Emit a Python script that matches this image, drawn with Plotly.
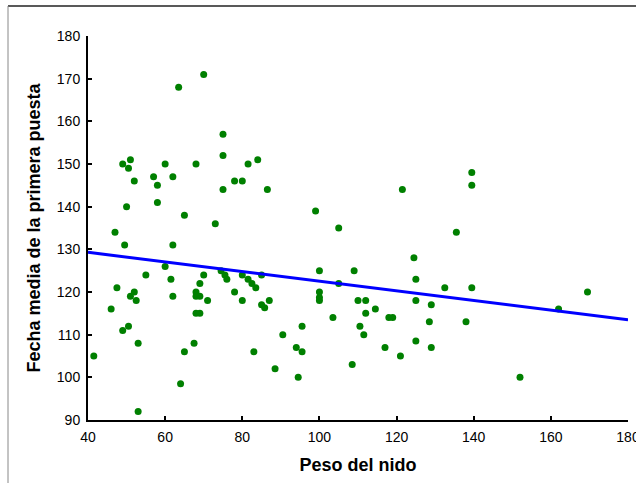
import plotly.graph_objects as go

# Nest weight (g) and mean first-laying date for each nest
peso_nido = [
    70, 63.5, 51, 49, 50.5, 60, 68, 52, 57, 62, 58, 50, 58, 65, 73,
    75, 75, 84, 81.5, 78, 80, 75, 86.5, 99, 47, 49.5, 62, 60, 55, 61.5,
    70, 69, 47.5, 52, 51, 52.5, 62, 68, 68, 69, 71, 46, 68, 69, 49,
    50.5, 53, 67.5, 65, 41.5, 64, 53, 74.5, 75.5, 76, 80, 81.5, 82.5, 83.5, 85,
    78, 80, 87, 85, 85.8, 100, 100, 100, 100, 95.5, 90.5, 94, 95.5, 83, 88.5,
    94.5, 139.5, 139.5, 121.5, 105, 135.5, 124.5, 109, 125, 105, 132.5, 139.5, 110, 112, 125,
    114.5, 129, 112, 103.5, 118, 119, 128.5, 138, 110.5, 111.5, 125, 117, 129, 121, 108.5,
    169.5, 162, 152,
]
fecha_puesta = [
    171, 168, 151, 150, 149, 150, 150, 146, 147, 147, 145, 140, 141, 138, 136,
    157, 152, 151, 150, 146, 146, 144, 144, 139, 134, 131, 131, 126, 124, 123,
    124, 122, 121, 120, 119, 118, 119, 120, 119, 119, 118, 116, 115, 115, 111,
    112, 108, 108, 106, 105, 98.5, 92, 125, 124, 123, 124, 123, 122, 121, 124,
    120, 118, 118, 117, 116.3, 125, 120, 118.7, 118, 112, 110, 107, 106, 106, 102,
    100, 148, 145, 144, 135, 134, 128, 125, 123, 122, 121, 121, 118, 118, 118,
    116, 117, 115, 114, 114, 114, 113, 113, 112, 110, 108.5, 107, 107, 105, 103,
    120, 116, 100,
]

# Least-squares line drawn across the full x range
recta_x = [40, 180]
recta_y = [129.3, 113.5]

x_ticks = [40, 60, 80, 100, 120, 140, 160, 180]
y_ticks = [90, 100, 110, 120, 130, 140, 150, 160, 170, 180]

fig = go.Figure()
fig.add_trace(go.Scatter(
    x=peso_nido, y=fecha_puesta, mode="markers",
    marker=dict(color="#008000", size=7, line=dict(width=0)),
    showlegend=False, cliponaxis=False,
))
fig.add_trace(go.Scatter(
    x=recta_x, y=recta_y, mode="lines",
    line=dict(color="#0000FF", width=3),
    showlegend=False,
))

axis_common = dict(
    showline=True, linecolor="black", linewidth=2,
    ticks="inside", ticklen=4, tickwidth=2, tickcolor="black",
    showgrid=False, zeroline=False, automargin=False,
    ticklabelstandoff=3, ticklabeloverflow="allow",
    tickfont=dict(family="Liberation Sans, Arial", size=14, color="black"),
)

fig.update_xaxes(
    range=[40, 180], tickvals=x_ticks,
    title=dict(text="Peso del nido", standoff=15,
               font=dict(family="Liberation Sans, Arial", size=18, color="black", weight="bold")),
    **axis_common,
)
fig.update_yaxes(
    range=[90, 180], tickvals=y_ticks,
    title=dict(text="Fecha media de la primera puesta", standoff=12,
               font=dict(family="Liberation Sans, Arial", size=18, color="black", weight="bold")),
    **axis_common,
)

# Outer frame: dark top edge and light left edge
left_px, right_px, top_px, bottom_px = 88, 628, 36, 420
w, h = right_px - left_px, bottom_px - top_px
fx = lambda p: (p - left_px) / w
fy = lambda p: (bottom_px - p) / h
fig.add_shape(type="line", xref="paper", yref="paper",
              x0=fx(8), x1=fx(636), y0=fy(6), y1=fy(6),
              line=dict(color="#222222", width=1.5))
fig.add_shape(type="line", xref="paper", yref="paper",
              x0=fx(8), x1=fx(8), y0=fy(6), y1=fy(483),
              line=dict(color="#888888", width=1))

fig.update_layout(
    width=636, height=483,
    margin=dict(l=left_px, r=636 - right_px, t=top_px, b=483 - bottom_px),
    paper_bgcolor="white", plot_bgcolor="white",
)

fig.write_html("out.html")
